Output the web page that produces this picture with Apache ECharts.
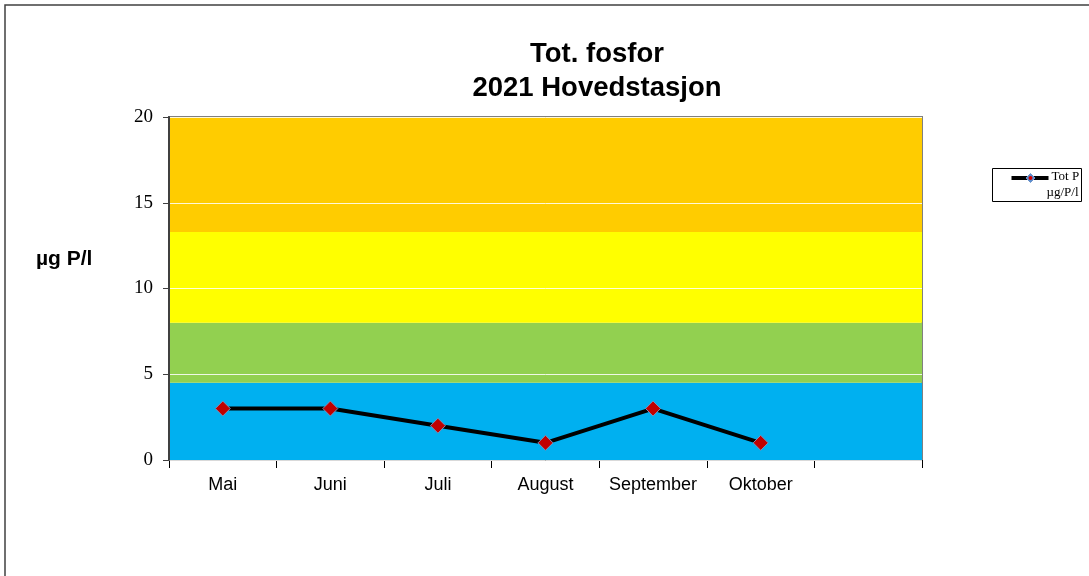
<!DOCTYPE html>
<html>
<head>
<meta charset="utf-8">
<script src="https://cdn.jsdelivr.net/npm/echarts@6/dist/echarts.min.js"></script>
<style>
  html, body { margin: 0; padding: 0; background: #fff; }
  #chart { width: 1089px; height: 576px; }
</style>
</head>
<body>
<div id="chart"></div>
<script>
// months along the x axis (last slot is empty in the original)
var months = ['Mai', 'Juni', 'Juli', 'August', 'September', 'Oktober', ''];
// Tot P, µg P/l
var totP = [3, 3, 2, 1, 3, 1, null];
// y ticks
var yTicks = [0, 5, 10, 15, 20];
// class limits for the coloured bands (µg P/l)
var bandLimits = [0, 4.5, 8, 13.3, 20];
var bandColors = ['#00B0F0', '#92D050', '#FFFF00', '#FFCC00'];

var bands = [];
for (var i = 0; i < bandColors.length; i++) {
  bands.push([
    { yAxis: bandLimits[i], itemStyle: { color: bandColors[i], opacity: 1 } },
    { yAxis: bandLimits[i + 1] }
  ]);
}

var chart = echarts.init(document.getElementById('chart'));

var option = {
  animation: false,
  backgroundColor: '#fff',
  title: {
    text: 'Tot. fosfor\n2021 Hovedstasjon',
    left: 592,
    top: 32,
    textAlign: 'center',
    textStyle: {
      fontFamily: 'Liberation Sans, Arial, sans-serif',
      fontWeight: 'bold',
      fontSize: 27.5,
      lineHeight: 34,
      color: '#000'
    }
  },
  grid: {
    left: 169,
    right: 167,
    top: 117,
    bottom: 116,
    show: true,
    borderColor: '#808080',
    borderWidth: 2
  },
  xAxis: {
    type: 'category',
    data: months,
    boundaryGap: true,
    axisLine: { show: true, lineStyle: { color: '#000', width: 1 } },
    axisTick: { show: true, interval: 0, length: 8, inside: false, lineStyle: { color: '#000' } },
    axisLabel: {
      interval: 0,
      fontFamily: 'Liberation Sans, Arial, sans-serif',
      fontSize: 18,
      color: '#000',
      margin: 16
    },
    splitLine: { show: false }
  },
  yAxis: {
    type: 'value',
    min: yTicks[0],
    max: yTicks[yTicks.length - 1],
    interval: 5,
    z: 5,
    axisLine: { show: true, lineStyle: { color: '#404040', width: 2 } },
    axisTick: { show: true, length: 6, lineStyle: { color: '#404040' } },
    axisLabel: {
      fontFamily: 'Liberation Serif, Times New Roman, serif',
      fontSize: 19,
      color: '#000',
      margin: 16
    },
    splitLine: { show: true, lineStyle: { color: 'rgba(255,255,255,0.85)', width: 1 } }
  },
  graphic: [
    {
      type: 'rect',
      shape: { x: 5, y: 5, width: 1200, height: 700 },
      style: { fill: 'none', stroke: '#404040', lineWidth: 1.5 },
      z: 100,
      silent: true
    },
    {
      type: 'text',
      left: 36,
      top: 249,
      style: {
        text: 'µg P/l',
        font: 'bold 21px Liberation Sans, Arial, sans-serif',
        fill: '#000'
      }
    },
    // legend box
    {
      type: 'group',
      left: 992,
      top: 168,
      children: [
        { type: 'rect', shape: { x: 0, y: 0, width: 89, height: 33 },
          style: { fill: '#fff', stroke: '#000', lineWidth: 1 } },
        { type: 'line', shape: { x1: 19, y1: 9.5, x2: 56, y2: 9.5 },
          style: { stroke: '#000', lineWidth: 4 } },
        { type: 'polygon', shape: { points: [[38, 5], [42.5, 9.5], [38, 14], [33.5, 9.5]] },
          style: { fill: '#5B8FD0', stroke: '#6F93C8', lineWidth: 1 } },
        { type: 'circle', shape: { cx: 38, cy: 9.5, r: 2 }, style: { fill: '#D00000' } },
        { type: 'text', x: 59, y: 2,
          style: { text: 'Tot P', font: '13px Liberation Serif, Times New Roman, serif', fill: '#000' } },
        { type: 'text', x: 54, y: 18,
          style: { text: 'µg/P/l', font: '13px Liberation Serif, Times New Roman, serif', fill: '#000' } }
      ]
    }
  ],
  series: [
    {
      name: 'Tot P',
      type: 'line',
      data: totP,
      z: 3,
      symbol: 'diamond',
      symbolSize: 15,
      lineStyle: { color: '#000', width: 4 },
      itemStyle: { color: '#C00000', borderColor: '#7F8FB8', borderWidth: 1 },
      markArea: {
        silent: true,
        data: bands
      }
    }
  ]
};

chart.setOption(option);
</script>
</body>
</html>
